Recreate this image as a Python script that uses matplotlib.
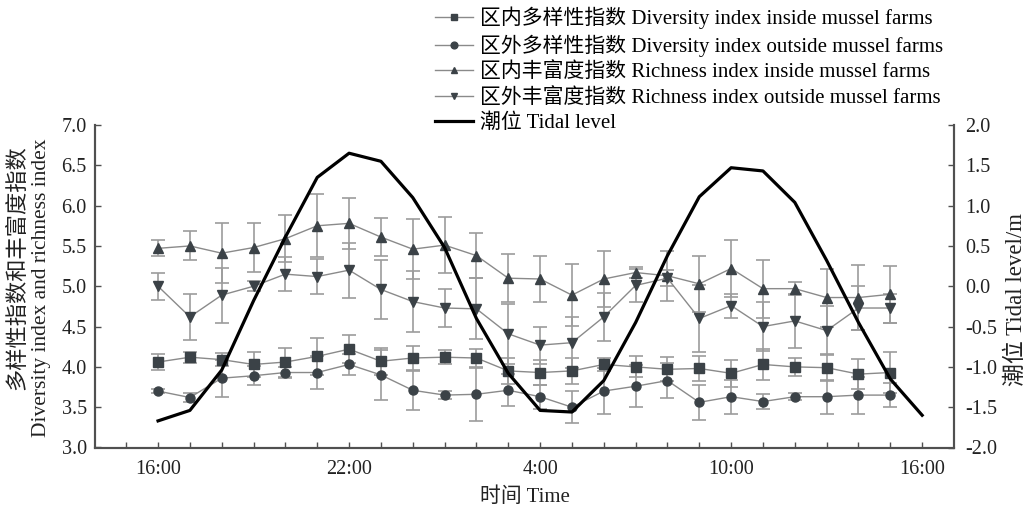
import numpy as np
import matplotlib
matplotlib.use("Agg")
import matplotlib.pyplot as plt

plt.rcParams['font.family'] = ['Liberation Serif', 'Noto Sans CJK SC']
plt.rcParams['axes.unicode_minus'] = True

# hours after 16:00
hours = np.arange(24)
tide_hours = np.arange(25)

div_in = [4.06, 4.12, 4.09, 4.03, 4.06, 4.13, 4.22, 4.07, 4.11, 4.12, 4.11, 3.95,
          3.93, 3.95, 4.03, 4.00, 3.97, 3.98, 3.92, 4.03, 4.00, 3.99, 3.91, 3.93]
div_in_err = [0.10, 0.07, 0.08, 0.16, 0.18, 0.23, 0.17, 0.17, 0.15, 0.09, 0.11, 0.16,
              0.16, 0.16, 0.08, 0.13, 0.15, 0.16, 0.17, 0.19, 0.11, 0.17, 0.19, 0.25]

div_out = [3.70, 3.62, 3.86, 3.89, 3.93, 3.93, 4.03, 3.90, 3.71, 3.65, 3.66, 3.71,
           3.63, 3.50, 3.70, 3.76, 3.83, 3.56, 3.63, 3.57, 3.63, 3.63, 3.65, 3.65]
div_out_err = [0.03, 0.05, 0.23, 0.12, 0.07, 0.20, 0.13, 0.31, 0.24, 0.05, 0.33, 0.20,
               0.15, 0.20, 0.29, 0.26, 0.22, 0.22, 0.21, 0.09, 0.04, 0.21, 0.23, 0.15]

rich_in = [5.47, 5.50, 5.41, 5.48, 5.59, 5.75, 5.78, 5.61, 5.46, 5.51, 5.38, 5.10,
           5.09, 4.89, 5.09, 5.17, 5.13, 5.03, 5.22, 4.97, 4.97, 4.86, 4.86, 4.90]
rich_in_err = [0.10, 0.18, 0.37, 0.30, 0.29, 0.39, 0.32, 0.24, 0.37, 0.35, 0.28, 0.30,
               0.28, 0.38, 0.35, 0.07, 0.31, 0.35, 0.35, 0.36, 0.08, 0.36, 0.40, 0.35]

rich_out = [5.00, 4.62, 4.89, 5.00, 5.15, 5.12, 5.20, 4.96, 4.81, 4.73, 4.72, 4.41,
            4.27, 4.30, 4.62, 5.01, 5.10, 4.60, 4.76, 4.50, 4.57, 4.45, 4.73, 4.73]
rich_out_err = [0.17, 0.29, 0.34, 0.06, 0.21, 0.22, 0.34, 0.37, 0.38, 0.23, 0.38, 0.37,
                0.23, 0.32, 0.30, 0.21, 0.10, 0.42, 0.15, 0.30, 0.34, 0.30, 0.27, 0.18]

tidal = [-1.67, -1.54, -1.04, -0.18, 0.61, 1.35, 1.65, 1.55, 1.10, 0.48, -0.40, -1.08,
         -1.54, -1.56, -1.17, -0.45, 0.38, 1.11, 1.47, 1.43, 1.04, 0.32, -0.45, -1.15, -1.60]

tick_labels = ['16:00', '22:00', '4:00', '10:00', '16:00']

labels = ['区内多样性指数 Diversity index inside mussel farms',
          '区外多样性指数 Diversity index outside mussel farms',
          '区内丰富度指数 Richness index inside mussel farms',
          '区外丰富度指数 Richness index outside mussel farms',
          '潮位 Tidal level']

mk_col = '#3b4247'
ln_col = '#8a8a8a'
err_col = '#9c9c9c'
ax_col = '#505050'
txt_col = '#222222'

W, H = 1031, 507
fig = plt.figure(figsize=(W / 100, H / 100), dpi=100)
ax = fig.add_axes([95 / W, 1 - 447.5 / H, (954 - 95) / W, (447.5 - 125) / H])

series = [(div_in, div_in_err, 's'), (div_out, div_out_err, 'o'),
          (rich_in, rich_in_err, '^'), (rich_out, rich_out_err, 'v')]
handles = []
for (vals, errs, m), lab in zip(series, labels[:4]):
    ax.errorbar(hours, vals, yerr=errs, fmt='none', ecolor=err_col,
                elinewidth=1.2, capsize=5, capthick=1.2, zorder=2)
    h, = ax.plot(hours, vals, color=ln_col, lw=1.0, marker=m, markersize=6.5,
                 markerfacecolor=mk_col, markeredgecolor=mk_col, zorder=3, label=lab)
    handles.append(h)

ax.set_ylim(3.0, 7.0)
ax.set_yticks(np.arange(3.0, 7.01, 0.5))
ax.set_yticklabels(['%.1f' % v for v in np.arange(3.0, 7.01, 0.5)])
ax.set_xlim(-1.98, 25.0)
ax.set_xticks(np.arange(-1, 25))
ax.set_xticklabels(['' if h % 6 else tick_labels[h // 6] for h in range(-1, 25)])

ax2 = ax.twinx()
th, = ax2.plot(tide_hours, tidal, color='black', lw=2.3, zorder=5, label=labels[4])
handles.append(th)
ax2.set_ylim(-2.0, 2.0)
ax2.set_yticks(np.arange(-2.0, 2.01, 0.5))
ax2.set_yticklabels(['%.1f' % (v if abs(v) > 1e-9 else 0.0) for v in np.arange(-2.0, 2.01, 0.5)])

for a in (ax, ax2):
    a.spines['top'].set_visible(False)
    for s in ('left', 'right', 'bottom'):
        a.spines[s].set_color(ax_col)
        a.spines[s].set_linewidth(1.5)
    a.tick_params(direction='in', length=4.5, width=1, color=ax_col, labelsize=14.5,
                  labelcolor=txt_col)
ax.tick_params(axis='x', pad=9)
ax.tick_params(axis='y', pad=6)
ax2.tick_params(axis='y', pad=8)

ax.set_xlabel('时间 Time', fontsize=15, color=txt_col, labelpad=6)

# y labels placed as in the reference
fig.text(18 / W, 1 - 268 / H, '多样性指数和丰富度指数', rotation=90, fontsize=16,
         color=txt_col, ha='center', va='center')
fig.text(42 / W, 1 - 288 / H, 'Diversity index and richness index', rotation=90,
         fontsize=15.5, color=txt_col, ha='center', va='center')
fig.text(1016 / W, 1 - 300 / H, '潮位 Tidal level/m', rotation=90, fontsize=16.5,
         color=txt_col, ha='center', va='center')

fig.legend(handles=handles, labels=labels, loc='upper left',
           bbox_to_anchor=(422 / W, 1.012), frameon=False, fontsize=15,
           handlelength=1.85, handletextpad=0.35, labelspacing=0.27,
           borderaxespad=0.2, markerscale=0.75)

fig.savefig('out.png', dpi=100)
